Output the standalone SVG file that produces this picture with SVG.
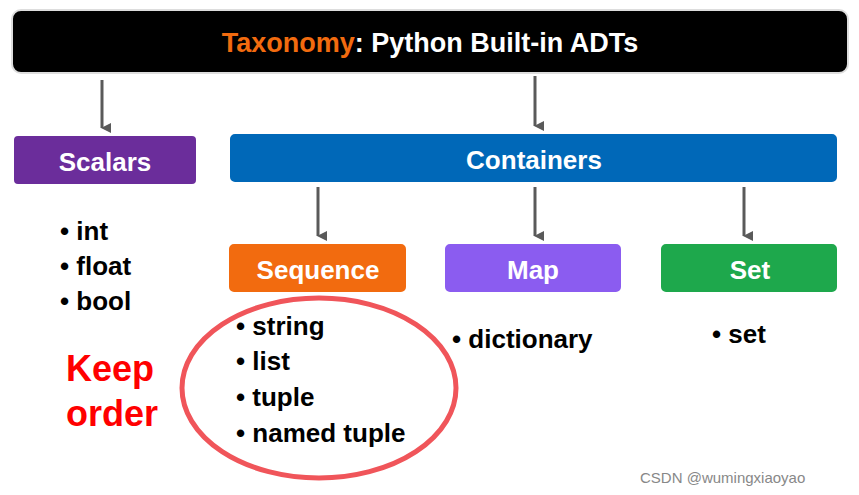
<svg xmlns="http://www.w3.org/2000/svg" width="859" height="495" viewBox="0 0 859 495">
<defs>
<marker id="ah" markerWidth="10" markerHeight="10" refX="5" refY="9" orient="auto" markerUnits="userSpaceOnUse" viewBox="0 0 10 10"><path d="M0,0 L10,0 L5,10 Z" fill="#5a5a5a"/></marker>
</defs>
<style>
.box{stroke:#ffffff;stroke-width:2}
.lbl{font-family:"Liberation Sans",Arial,sans-serif;font-weight:bold;fill:#fff;text-anchor:middle}
.item{font-family:"Liberation Sans",Arial,sans-serif;font-weight:bold;font-size:26px;fill:#000}
.conn{stroke:#5a5a5a;stroke-width:3;fill:none}
</style>
<rect width="859" height="495" fill="#fff"/>
<g id="title"><rect class="box" x="12" y="10" width="836" height="63" rx="9" fill="#000" style="stroke:#ddd"/>
<text class="lbl" x="430" y="52" font-size="27"><tspan fill="#f26b0f">Taxonomy</tspan>: Python Built-in ADTs</text></g>
<g id="connectors">
<line class="conn" x1="102" y1="80" x2="102" y2="128" marker-end="url(#ah)"/>
<line class="conn" x1="535" y1="76" x2="535" y2="126" marker-end="url(#ah)"/>
<line class="conn" x1="318" y1="187" x2="318" y2="236" marker-end="url(#ah)"/>
<line class="conn" x1="535" y1="187" x2="535" y2="236" marker-end="url(#ah)"/>
<line class="conn" x1="744" y1="187" x2="744" y2="236" marker-end="url(#ah)"/>
</g>
<g id="scalars"><rect class="box" x="13" y="135" width="184" height="50" rx="5" fill="#6b2d9b"/><text class="lbl" x="105" y="171" font-size="26">Scalars</text></g>
<g id="containers"><rect class="box" x="229" y="133" width="609" height="50" rx="6" fill="#0068b8"/><text class="lbl" x="534" y="169" font-size="26">Containers</text></g>
<g id="sequence"><rect class="box" x="228" y="243" width="179" height="50" rx="6" fill="#f26b0f"/><text class="lbl" x="318" y="279" font-size="26">Sequence</text></g>
<g id="map"><rect class="box" x="444" y="243" width="178" height="50" rx="6" fill="#8b5cf0"/><text class="lbl" x="533" y="279" font-size="26">Map</text></g>
<g id="set"><rect class="box" x="660" y="243" width="178" height="50" rx="6" fill="#1ea84c"/><text class="lbl" x="750" y="279" font-size="26">Set</text></g>
<g id="scalar-items" class="item">
<text class="item" x="60" y="240">• int</text>
<text class="item" x="60" y="275">• float</text>
<text class="item" x="60" y="310">• bool</text>
</g>
<g id="seq-items">
<text class="item" x="236" y="335">• string</text>
<text class="item" x="236" y="370">• list</text>
<text class="item" x="236" y="406">• tuple</text>
<text class="item" x="236" y="442">• named tuple</text>
</g>
<text class="item" x="452" y="348">• dictionary</text>
<text class="item" x="712" y="343">• set</text>
<text x="66" y="381" font-family="Liberation Sans,Arial,sans-serif" font-weight="bold" font-size="36" fill="#ff0000">Keep</text>
<text x="66" y="426" font-family="Liberation Sans,Arial,sans-serif" font-weight="bold" font-size="36" fill="#ff0000">order</text>
<ellipse cx="319" cy="388" rx="137" ry="90" fill="none" stroke="#f0555a" stroke-width="5"/>
<text x="640" y="483" font-family="Liberation Sans,Arial,sans-serif" font-size="15" fill="#888">CSDN @wumingxiaoyao</text>
</svg>
